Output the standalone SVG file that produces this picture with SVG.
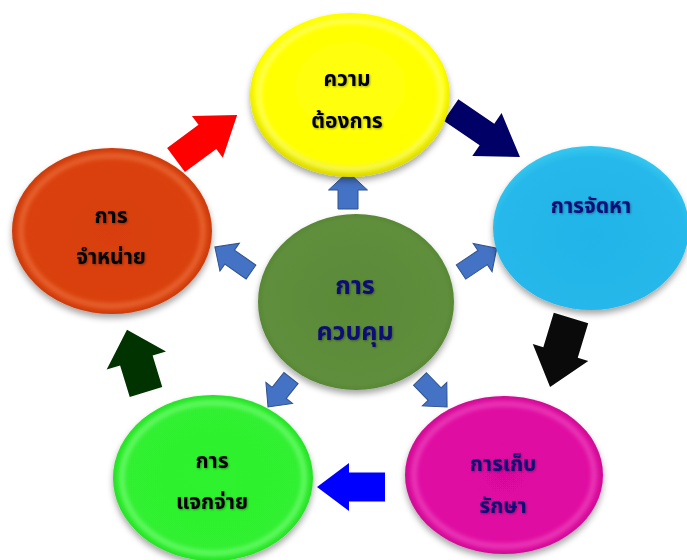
<svg xmlns="http://www.w3.org/2000/svg" width="687" height="560" viewBox="0 0 687 560">
<style>
.t{font-family:"Noto Sans Thai","Tahoma","Noto Sans","DejaVu Sans",sans-serif;font-size:21px;font-weight:bold;text-anchor:middle}
.big{font-size:25px}
.dk{fill:#000000}
.nv{fill:#0a0a78}
.sb{fill:#4472C4;stroke:#2F528F;stroke-width:1}
.rim{fill:none;stroke-width:5;opacity:0.55}
</style>
<defs>
<filter id="sh" x="-20%" y="-20%" width="140%" height="150%">
<feDropShadow dx="0" dy="4" stdDeviation="3" flood-color="#000" flood-opacity="0.35"/>
</filter>
<filter id="ts" x="-10%" y="-30%" width="120%" height="160%">
<feDropShadow dx="1" dy="1" stdDeviation="1" flood-color="#000" flood-opacity="0.35"/>
</filter>
<filter id="bl"><feGaussianBlur stdDeviation="2"/></filter>
<radialGradient id="gY" cx="50%" cy="45%" r="55%"><stop offset="0" stop-color="#ffff10"/><stop offset="0.85" stop-color="#ffff00"/><stop offset="1" stop-color="#d8d800"/></radialGradient>
<radialGradient id="gC" cx="50%" cy="55%" r="60%"><stop offset="0" stop-color="#22b4e8"/><stop offset="0.8" stop-color="#26b8ea"/><stop offset="1" stop-color="#40d4f4"/></radialGradient>
<radialGradient id="gG" cx="50%" cy="50%" r="55%"><stop offset="0" stop-color="#5a8a38"/><stop offset="0.85" stop-color="#5f8f3c"/><stop offset="1" stop-color="#4d7a2c"/></radialGradient>
<radialGradient id="gO" cx="50%" cy="50%" r="55%"><stop offset="0" stop-color="#d83e0a"/><stop offset="0.85" stop-color="#da420c"/><stop offset="1" stop-color="#b53208"/></radialGradient>
<radialGradient id="gL" cx="50%" cy="50%" r="55%"><stop offset="0" stop-color="#2ef22e"/><stop offset="0.85" stop-color="#30f030"/><stop offset="1" stop-color="#20c820"/></radialGradient>
<radialGradient id="gM" cx="50%" cy="50%" r="55%"><stop offset="0" stop-color="#de06a0"/><stop offset="0.85" stop-color="#e00aa2"/><stop offset="1" stop-color="#b0087c"/></radialGradient>
</defs>

<g id="connectors">
<path d="M0,-13 L43.5,-13 L43.5,-26 L83.5,0 L43.5,26 L43.5,13 L0,13 Z" fill="#000066" transform="translate(451,110) rotate(34.3)"/>
<path d="M0,-18 L36,-18 L36,-29 L72,0 L36,29 L36,18 L0,18 Z" fill="#0a0a0a" transform="translate(571,318) rotate(106.9)"/>
<path d="M0,-14.5 L36,-14.5 L36,-24 L68,0 L36,24 L36,14.5 L0,14.5 Z" fill="#0000ff" transform="translate(385,487) rotate(180)"/>
<path d="M0,-17 L33,-17 L33,-31 L65,0 L33,31 L33,17 L0,17 Z" fill="#003300" transform="translate(146,392) rotate(-107)"/>
<path d="M0,-15 L39,-15 L39,-26 L76,0 L39,26 L39,15 L0,15 Z" fill="#ff0000" transform="translate(176,160) rotate(-36.4)"/>
<path class="sb" d="M0,-10 L19,-10 L19,-19.5 L37,0 L19,19.5 L19,10 L0,10 Z" transform="translate(348,209) rotate(-90)"/>
<path class="sb" d="M0,-8.5 L26,-8.5 L26,-17 L43,0 L26,17 L26,8.5 L0,8.5 Z" transform="translate(461,272) rotate(-33.7)"/>
<path class="sb" d="M0,-8.5 L26,-8.5 L26,-17 L44,0 L26,17 L26,8.5 L0,8.5 Z" transform="translate(251,272) rotate(-145.2)"/>
<path class="sb" d="M0,-9 L19,-9 L19,-17 L37,0 L19,17 L19,9 L0,9 Z" transform="translate(291,378) rotate(128.4)"/>
<path class="sb" d="M0,-9 L21,-9 L21,-17 L39,0 L21,17 L21,9 L0,9 Z" transform="translate(420,379) rotate(46)"/>
</g>

<g id="n-demand">
<ellipse cx="350" cy="95" rx="100" ry="82" fill="url(#gY)" filter="url(#sh)"/>
<ellipse cx="350" cy="95" rx="91" ry="74" class="rim" stroke="#ffffa0" filter="url(#bl)"/>
<text class="t dk" x="347" y="86" filter="url(#ts)">ความ</text>
<text class="t dk" x="347" y="128" filter="url(#ts)">ต้องการ</text>
</g>

<g id="n-procure">
<ellipse cx="591" cy="228" rx="98" ry="82" fill="url(#gC)" filter="url(#sh)"/>
<text class="t nv" x="591" y="213" filter="url(#ts)">การจัดหา</text>
</g>

<g id="n-store">
<ellipse cx="504" cy="475" rx="99" ry="79" fill="url(#gM)" filter="url(#sh)"/>
<ellipse cx="504" cy="475" rx="90" ry="71" class="rim" stroke="#f060c8" filter="url(#bl)"/>
<text class="t nv" x="503" y="471" filter="url(#ts)">การเก็บ</text>
<text class="t nv" x="503" y="513" filter="url(#ts)">รักษา</text>
</g>

<g id="n-distribute">
<ellipse cx="213" cy="478" rx="100" ry="83" fill="url(#gL)" filter="url(#sh)"/>
<ellipse cx="213" cy="478" rx="91" ry="75" class="rim" stroke="#90ff90" filter="url(#bl)"/>
<text class="t dk" x="212" y="468" filter="url(#ts)">การ</text>
<text class="t dk" x="212" y="509" filter="url(#ts)">แจกจ่าย</text>
</g>

<g id="n-dispose">
<ellipse cx="112" cy="231" rx="100" ry="83" fill="url(#gO)" filter="url(#sh)"/>
<ellipse cx="112" cy="231" rx="91" ry="75" class="rim" stroke="#f08050" filter="url(#bl)"/>
<text class="t dk" x="111" y="223" filter="url(#ts)">การ</text>
<text class="t dk" x="111" y="264" filter="url(#ts)">จำหน่าย</text>
</g>

<g id="n-control">
<ellipse cx="356" cy="302" rx="98" ry="88" fill="url(#gG)" filter="url(#sh)"/>
<text class="t big nv" x="355" y="294" filter="url(#ts)">การ</text>
<text class="t big nv" x="355" y="340" filter="url(#ts)">ควบคุม</text>
</g>
</svg>
